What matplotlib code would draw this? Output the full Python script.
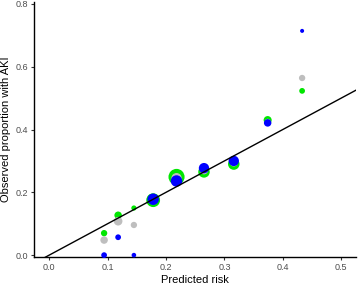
import numpy as np
import matplotlib
matplotlib.use("Agg")
import matplotlib.pyplot as plt

plt.rcParams['font.family'] = ['Liberation Sans', 'DejaVu Sans']

# predicted risk per group
pred = [0.094, 0.118, 0.145, 0.178, 0.218, 0.265, 0.316, 0.374, 0.433]

# observed proportions for the three series
obs_green = [0.070, 0.127, 0.150, 0.175, 0.249, 0.265, 0.290, 0.430, 0.523]
obs_grey = [0.048, 0.108, 0.096, 0.176, 0.245, 0.270, 0.295, 0.425, 0.564]
obs_blue = [0.000, 0.057, 0.000, 0.178, 0.236, 0.277, 0.300, 0.421, 0.714]

# relative group sizes (marker diameter, px)
n_green = [5.5, 6.5, 4.5, 12, 14, 10, 10, 7, 5]
n_grey = [6.5, 7.5, 5.5, 8, 9, 7, 7, 5, 5.5]
n_blue = [5, 5, 4, 10, 10, 9, 9, 6.5, 3.5]

def px_to_s(d):
    return (np.array(d) * 0.72 * 1.15) ** 2

fig = plt.figure(figsize=(3.58, 2.84), dpi=100)
ax = fig.add_axes([0.095, 0.095, 0.899, 0.898])

ax.scatter(pred, obs_green, s=px_to_s(n_green), color='#00E600', linewidths=0, zorder=2, clip_on=False)
ax.scatter(pred, obs_grey, s=px_to_s(n_grey), color='#BEBEBE', linewidths=0, zorder=3, clip_on=False)
ax.scatter(pred, obs_blue, s=px_to_s(n_blue), color='#0000FF', linewidths=0, zorder=4, clip_on=False)

lims = np.array([-0.03, 0.54])
ax.plot(lims, lims, color='black', lw=1.0, zorder=5)

ax.set_xlim(-0.026, 0.525)
ax.set_ylim(-0.006, 0.806)
ax.set_xticks([0.0, 0.1, 0.2, 0.3, 0.4, 0.5])
ax.set_yticks([0.0, 0.2, 0.4, 0.6, 0.8])
ax.xaxis.set_major_formatter(matplotlib.ticker.FormatStrFormatter('%.1f'))
ax.yaxis.set_major_formatter(matplotlib.ticker.FormatStrFormatter('%.1f'))

for side in ['top', 'right']:
    ax.spines[side].set_visible(False)
for side in ['left', 'bottom']:
    ax.spines[side].set_color('black')
    ax.spines[side].set_linewidth(1.0)

ax.tick_params(axis='both', colors='#333333', labelcolor='#4D4D4D', labelsize=6.5,
               length=2.5, width=0.8, pad=2)

ax.set_xlabel('Predicted risk', fontsize=8, color='black', labelpad=2)
ax.set_ylabel('Observed proportion with AKI', fontsize=8, color='black', labelpad=3)

fig.savefig('out.png', dpi=100)
